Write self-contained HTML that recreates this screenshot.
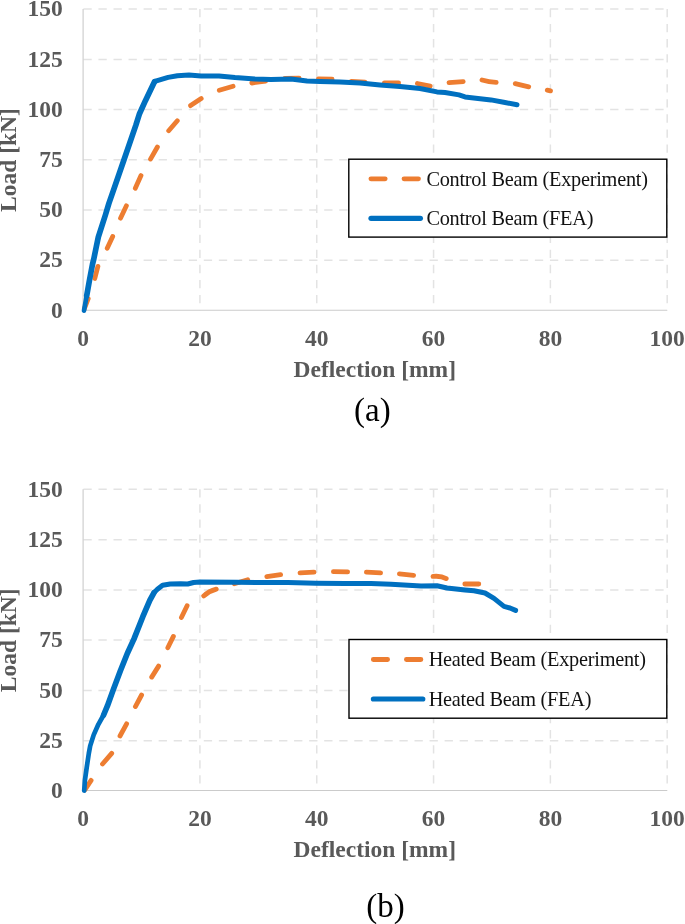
<!DOCTYPE html>
<html><head><meta charset="utf-8"><title>Load-deflection</title>
<style>
html,body{margin:0;padding:0;background:#fff;overflow:hidden}
svg{display:block}
text{font-family:"Liberation Serif","Times New Roman",serif}
.tk{font-size:23.5px;font-weight:bold;fill:#595959}
.lg{font-size:20.3px;fill:#111;letter-spacing:-0.25px}
.cap{font-size:33px;fill:#000}
</style></head><body>
<svg width="685" height="924" viewBox="0 0 685 924">
<rect width="685" height="924" fill="#fff"/>
<path d="M83.39999999999999 9.00H667.2M83.39999999999999 59.40H667.2M83.39999999999999 109.50H667.2M83.39999999999999 159.70H667.2M83.39999999999999 209.90H667.2M83.39999999999999 260.20H667.2M199.92 9.00V310.30M316.74 9.00V310.30M433.56 9.00V310.30M550.38 9.00V310.30M667.20 9.00V310.30" fill="none" stroke="#e3e3e3" stroke-width="1.5" stroke-dasharray="8.3 6.75"/>
<path d="M83.1 9.00V310.30H667.2" fill="none" stroke="#cbcbcb" stroke-width="1.1"/>
<rect x="348.8" y="159.2" width="318" height="77.9" fill="#fff" stroke="#000" stroke-width="1.4"/>
<path d="M84.4 308.7L88.2 298.7M94.8 278.5L97.9 266.4M107.2 248.2L112.7 236.4M120.5 218.2L126.4 205.8M135.3 188.3L141.0 175.6M150.5 159.1L157.4 147.0M168.7 130.8L177.3 120.8M190.6 105.6L201.2 98.6M219.3 90.3L233.1 86.3M251.8 83.0L265.6 81.0M284.9 78.3L299.1 78.1M318.4 79.0L332.1 79.2M351.4 81.3L365.1 82.1M384.4 82.8L398.6 83.0M417.4 83.5L430.2 86.1M449.0 82.6L463.2 81.6M482.0 80.0Q489.0 82.2 496.2 82.4M515.3 83.6L528.7 86.8M547.3 90.1L550.5 90.9" fill="none" stroke="#ED7D31" stroke-width="4.8" stroke-linecap="round"/>
<path d="M154.6 81.6L156.4 80.9L168.1 77.4L177.4 75.7L185.0 75.3L189.0 75.1L201.0 75.9L219.0 75.9L235.0 77.5L255.0 78.9L271.0 79.5L291.0 79.1L307.0 80.9L320.0 81.5L340.0 82.1L360.0 83.1L380.0 84.9L400.0 86.5L420.0 88.5L437.0 91.9L445.0 92.5L459.0 94.9L465.0 96.9L491.0 99.9L505.0 102.5L517.0 104.7" fill="none" stroke="#0070C0" stroke-width="5.0" stroke-linecap="round" stroke-linejoin="round"/>
<path d="M84.0 310.6L86.7 295.7" fill="none" stroke="#0070C0" stroke-width="4.7" stroke-linecap="round" stroke-linejoin="round"/>
<path d="M86.7 295.7L89.6 279.4L92.5 264.2L93.8 259.0L96.3 246.7L98.3 237.2L105.4 215.0L108.9 203.4L113.6 189.9L124.0 159.8L135.8 125.4L139.5 113.7L145.3 100.9L154.6 81.6" fill="none" stroke="#0070C0" stroke-width="5.7" stroke-linecap="round" stroke-linejoin="round"/>
<path d="M370.9 178.8h14.3M404.0 178.8h14.5" fill="none" stroke="#ED7D31" stroke-width="4.8" stroke-linecap="round"/>
<path d="M371.0 218.3h49.4" fill="none" stroke="#0070C0" stroke-width="5.2" stroke-linecap="round"/>
<text class="lg" x="426.4" y="185.7">Control Beam (Experiment)</text>
<text class="lg" x="426.4" y="225.4">Control Beam (FEA)</text>
<text class="tk" text-anchor="end" x="62.8" y="16.2">150</text>
<text class="tk" text-anchor="end" x="62.8" y="66.6">125</text>
<text class="tk" text-anchor="end" x="62.8" y="116.7">100</text>
<text class="tk" text-anchor="end" x="62.8" y="166.9">75</text>
<text class="tk" text-anchor="end" x="62.8" y="217.1">50</text>
<text class="tk" text-anchor="end" x="62.8" y="267.4">25</text>
<text class="tk" text-anchor="end" x="62.8" y="317.5">0</text>
<text class="tk" text-anchor="middle" x="83.1" y="346.1">0</text>
<text class="tk" text-anchor="middle" x="199.9" y="346.1">20</text>
<text class="tk" text-anchor="middle" x="316.7" y="346.1">40</text>
<text class="tk" text-anchor="middle" x="433.6" y="346.1">60</text>
<text class="tk" text-anchor="middle" x="550.4" y="346.1">80</text>
<text class="tk" text-anchor="middle" x="667.2" y="346.1">100</text>
<text class="tk" text-anchor="middle" x="374.8" y="377.1">Deflection [mm]</text>
<text class="tk" text-anchor="middle" transform="translate(15.6 160.0) rotate(-90)">Load [kN]</text>
<text class="cap" text-anchor="middle" x="372.4" y="420.9">(a)</text>
<path d="M83.39999999999999 489.30H667.2M83.39999999999999 539.80H667.2M83.39999999999999 590.00H667.2M83.39999999999999 640.10H667.2M83.39999999999999 690.40H667.2M83.39999999999999 740.80H667.2M199.92 489.30V790.50M316.74 489.30V790.50M433.56 489.30V790.50M550.38 489.30V790.50M667.20 489.30V790.50" fill="none" stroke="#e3e3e3" stroke-width="1.5" stroke-dasharray="8.3 6.75"/>
<path d="M83.1 489.30V790.50H667.2" fill="none" stroke="#cbcbcb" stroke-width="1.1"/>
<rect x="349.0" y="639.5" width="317.8" height="78.7" fill="#fff" stroke="#000" stroke-width="1.4"/>
<path d="M85.0 789.8L91.1 780.4M102.5 764.0L111.7 753.4M120.0 736.0L126.6 723.8M135.4 706.6L141.6 695.0M151.7 677.1L158.6 666.1M167.8 647.8L173.4 636.4M181.4 617.5L187.1 605.7M203.7 595.9Q209.0 591.0 216.3 589.1M234.3 583.7L247.7 579.7M266.8 576.7L280.6 574.7M300.0 572.9L314.0 572.1M333.4 571.7L347.6 571.9M366.4 572.1L380.6 572.9M399.4 573.9L413.6 575.3M433.0 576.4Q441.0 575.6 446.2 578.6M464.8 584.0L478.8 584.0" fill="none" stroke="#ED7D31" stroke-width="4.8" stroke-linecap="round"/>
<path d="M153.9 592.8L157.4 589.3L162.6 585.2L170.2 584.0L180.7 583.7L187.7 584.0L193.6 582.5L200.0 582.0L237.0 582.2L268.0 582.6L288.0 582.6L316.0 583.2L345.0 583.6L371.0 583.6L391.0 584.2L421.0 586.0L437.0 585.8L447.0 588.0L465.0 590.0L474.0 590.8L485.0 593.0L494.0 598.4L504.0 606.4L510.0 608.0L515.6 610.4" fill="none" stroke="#0070C0" stroke-width="5.0" stroke-linecap="round" stroke-linejoin="round"/>
<path d="M84.2 790.6L84.9 780.4L86.7 767.6L88.8 753.5L90.2 745.9L93.7 734.9L98.4 724.3L103.6 715.0" fill="none" stroke="#0070C0" stroke-width="4.7" stroke-linecap="round" stroke-linejoin="round"/>
<path d="M103.6 715.0L107.5 705.7L113.4 689.4L120.4 670.7L127.4 653.2L128.9 650.0L134.0 638.9L142.8 616.7L149.8 600.4L153.9 592.8" fill="none" stroke="#0070C0" stroke-width="5.7" stroke-linecap="round" stroke-linejoin="round"/>
<path d="M373.3 659.5h14.3M406.4 659.5h14.5" fill="none" stroke="#ED7D31" stroke-width="4.8" stroke-linecap="round"/>
<path d="M373.4 699.0h49.4" fill="none" stroke="#0070C0" stroke-width="5.2" stroke-linecap="round"/>
<text class="lg" x="428.7" y="666.0">Heated Beam (Experiment)</text>
<text class="lg" x="428.7" y="705.5">Heated Beam (FEA)</text>
<text class="tk" text-anchor="end" x="62.8" y="496.5">150</text>
<text class="tk" text-anchor="end" x="62.8" y="547.0">125</text>
<text class="tk" text-anchor="end" x="62.8" y="597.2">100</text>
<text class="tk" text-anchor="end" x="62.8" y="647.3">75</text>
<text class="tk" text-anchor="end" x="62.8" y="697.6">50</text>
<text class="tk" text-anchor="end" x="62.8" y="748.0">25</text>
<text class="tk" text-anchor="end" x="62.8" y="797.7">0</text>
<text class="tk" text-anchor="middle" x="83.1" y="826.4">0</text>
<text class="tk" text-anchor="middle" x="199.9" y="826.4">20</text>
<text class="tk" text-anchor="middle" x="316.7" y="826.4">40</text>
<text class="tk" text-anchor="middle" x="433.6" y="826.4">60</text>
<text class="tk" text-anchor="middle" x="550.4" y="826.4">80</text>
<text class="tk" text-anchor="middle" x="667.2" y="826.4">100</text>
<text class="tk" text-anchor="middle" x="374.8" y="857.4">Deflection [mm]</text>
<text class="tk" text-anchor="middle" transform="translate(15.6 640.3) rotate(-90)">Load [kN]</text>
<text class="cap" text-anchor="middle" x="385.5" y="917.4">(b)</text>
</svg>
</body></html>
